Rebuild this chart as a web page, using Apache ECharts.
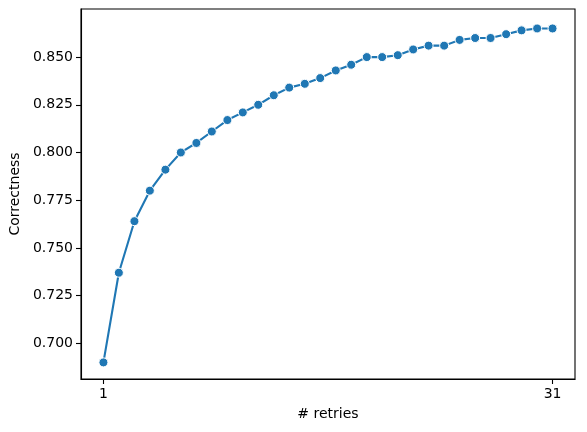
<!DOCTYPE html>
<html>
<head>
<meta charset="utf-8">
<script src="https://cdn.jsdelivr.net/npm/echarts@6/dist/echarts.min.js"></script>
<style>
  html, body { margin: 0; padding: 0; background: #fff; }
  #main { width: 587px; height: 432px; }
</style>
</head>
<body>
<div id="main"></div>
<script>
// 30 runs, x spread evenly from 1 to 31
var retries = [1, 2.03, 3.07, 4.10, 5.14, 6.17, 7.21, 8.24, 9.28, 10.31,
               11.34, 12.38, 13.41, 14.45, 15.48, 16.52, 17.55, 18.59, 19.62, 20.66,
               21.69, 22.72, 23.76, 24.79, 25.83, 26.86, 27.90, 28.93, 29.97, 31];
var correctness = [0.690, 0.737, 0.764, 0.780, 0.791, 0.800, 0.805, 0.811, 0.817, 0.821,
                   0.825, 0.830, 0.834, 0.836, 0.839, 0.843, 0.846, 0.850, 0.850, 0.851,
                   0.854, 0.856, 0.856, 0.859, 0.860, 0.860, 0.862, 0.864, 0.865, 0.865];
var xTicks = [1, 31];
var yTicks = [0.700, 0.725, 0.750, 0.775, 0.800, 0.825, 0.850];

var points = [];
for (var i = 0; i < retries.length; i++) {
  points.push([retries[i], correctness[i]]);
}

var myChart = echarts.init(document.getElementById('main'));
myChart.setOption({
  animation: false,
  textStyle: { fontFamily: 'DejaVu Sans', color: '#000' },
  grid: {
    left: 79, right: 12, top: 9, bottom: 53,
    show: true, borderColor: '#000', borderWidth: 1.1,
    backgroundColor: 'transparent'
  },
  xAxis: {
    type: 'value',
    min: -0.5,
    max: 32.5,
    name: '# retries',
    nameLocation: 'middle',
    nameGap: 28,
    nameTextStyle: { fontSize: 14, color: '#000', fontFamily: 'DejaVu Sans' },
    axisLine: { show: true, onZero: false, lineStyle: { color: '#000', width: 1.1 } },
    axisTick: { show: true, length: 5, lineStyle: { color: '#000', width: 1.1 }, customValues: xTicks },
    axisLabel: { fontSize: 14, color: '#000', margin: 8, customValues: xTicks,
                 formatter: function (v) { return String(v); } },
    splitLine: { show: false }
  },
  yAxis: {
    type: 'value',
    min: 0.6813,
    max: 0.8752,
    name: 'Correctness',
    nameLocation: 'middle',
    nameGap: 54,
    nameTextStyle: { fontSize: 14, color: '#000', fontFamily: 'DejaVu Sans' },
    axisLine: { show: true, onZero: false, lineStyle: { color: '#000', width: 1.1 } },
    axisTick: { show: true, length: 5, lineStyle: { color: '#000', width: 1.1 }, customValues: yTicks },
    axisLabel: { fontSize: 14, color: '#000', margin: 8, customValues: yTicks,
                 formatter: function (v) { return v.toFixed(3); } },
    splitLine: { show: false }
  },
  series: [{
    type: 'line',
    data: points,
    symbol: 'circle',
    symbolSize: 9,
    showAllSymbol: true,
    lineStyle: { color: '#1f77b4', width: 2.1 },
    itemStyle: { color: '#1f77b4', borderColor: '#fff', borderWidth: 1 },
    z: 3
  }]
});
</script>
</body>
</html>
